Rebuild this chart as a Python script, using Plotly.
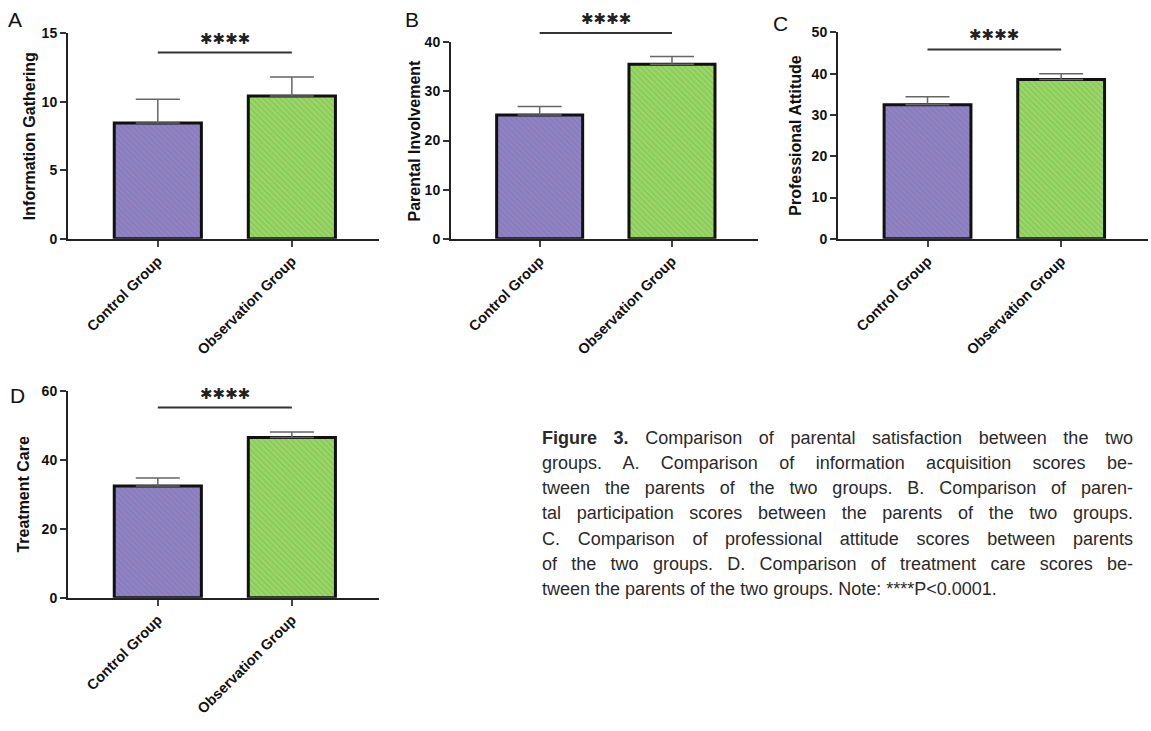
import json
import plotly.graph_objects as go

W, H = 1151, 731

categories = ["Control Group", "Observation Group"]
panel_letters = ["A", "B", "C", "D"]
panel_titles = ["Information Gathering", "Parental Involvement", "Professional Attitude", "Treatment Care"]

means_A = [8.45, 10.43]
sd_A = [1.74, 1.38]
means_B = [25.2, 35.5]
sd_B = [1.7, 1.6]
means_C = [32.5, 38.6]
sd_C = [1.9, 1.4]
means_D = [32.5, 46.6]
sd_D = [2.3, 1.6]

y_max = [15, 40, 50, 60]
y_dtick = [5, 10, 10, 20]
sig_level = [13.6, 41.9, 45.9, 55.3]
sig_text = "✱✱✱✱"

caption_lines = [
    "<b>Figure 3.</b> Comparison of parental satisfaction between the two",
    "groups. A. Comparison of information acquisition scores be-",
    "tween the parents of the two groups. B. Comparison of paren-",
    "tal participation scores between the parents of the two groups.",
    "C. Comparison of professional attitude scores between parents",
    "of the two groups. D. Comparison of treatment care scores be-",
    "tween the parents of the two groups. Note: ****P<0.0001.",
]

means = [means_A, means_B, means_C, means_D]
sds = [sd_A, sd_B, sd_C, sd_D]

boxes = [(68, 379, 26, 236), (451, 758, 35, 236), (838, 1148, 25, 236), (68, 379, 392, 603)]
title_x = [29, 415, 796, 24]
letter_pos = [(15, 12), (412, 12), (780, 16), (17, 396)]
x_range = [-0.67, 1.65]

bar_bg = ["#7f8ad0", "#86e460"]
bar_fg = ["#c25a80", "#c8876a"]

fig = go.Figure()
font_family = "Liberation Sans, Arial, sans-serif"
caption_font = "Liberation Sans, Arial, sans-serif"

for k in range(4):
    xa = "x" if k == 0 else f"x{k+1}"
    ya = "y" if k == 0 else f"y{k+1}"
    xl, xr, yt, yb = boxes[k]
    for i, cat in enumerate(categories):
        fig.add_trace(go.Bar(
            x=[cat], y=[means[k][i]],
            xaxis=xa, yaxis=ya, width=0.65,
            marker=dict(color=bar_bg[i], line=dict(color="#111", width=3),
                        pattern=dict(shape="\\", bgcolor=bar_bg[i], fgcolor=bar_fg[i],
                                     size=4, solidity=0.4)),
            error_y=dict(type="data", symmetric=False, array=[sds[k][i]], arrayminus=[0],
                         color="#666", thickness=1.5, width=22),
            showlegend=False,
        ))
    axis_common = dict(showgrid=False, zeroline=False, showline=True, linecolor="#222",
                       linewidth=2, ticks="outside", ticklen=6, tickwidth=2, tickcolor="#333")
    fig.layout[("xaxis" if k == 0 else f"xaxis{k+1}")] = dict(
        axis_common, domain=[xl / W, xr / W], anchor=ya, range=x_range,
        type="category", tickangle=-45, tickwidth=1.5, tickcolor="#444",
        tickfont=dict(family=font_family, size=14.5, color="#111", weight="bold"))
    fig.layout[("yaxis" if k == 0 else f"yaxis{k+1}")] = dict(
        axis_common, domain=[1 - yb / H, 1 - yt / H], anchor=xa, range=[0, y_max[k]],
        dtick=y_dtick[k], tick0=0,
        tickfont=dict(family=font_family, size=14, color="#111", weight="bold"))

    x0f = (0 - x_range[0]) / (x_range[1] - x_range[0])
    x1f = (1 - x_range[0]) / (x_range[1] - x_range[0])
    yf = sig_level[k] / y_max[k]
    fig.add_shape(type="line", xref=f"{xa} domain", yref=f"{ya} domain",
                  x0=x0f, x1=x1f, y0=yf, y1=yf, line=dict(color="#333", width=2))
    fig.add_annotation(xref=f"{xa} domain", yref=f"{ya} domain", x=(x0f + x1f) / 2, y=yf,
                       text=sig_text, showarrow=False, yanchor="middle", yshift=14,
                       font=dict(family="DejaVu Sans", size=15, color="#222"))
    fig.add_annotation(xref="paper", yref="paper", x=title_x[k] / W, y=1 - (yt + yb) / 2 / H,
                       text=panel_titles[k], textangle=-90, showarrow=False,
                       xanchor="center", yanchor="middle",
                       font=dict(family=font_family, size=16, color="#111", weight="bold"))
    lx, ly = letter_pos[k]
    fig.add_annotation(xref="paper", yref="paper", x=lx / W, y=1 - ly / H,
                       text=panel_letters[k], showarrow=False, xanchor="center", yanchor="middle",
                       font=dict(family=font_family, size=21, color="#111"))

justify_idx = []
for j, line in enumerate(caption_lines):
    if j < len(caption_lines) - 1:
        justify_idx.append(len(fig.layout.annotations))
    fig.add_annotation(xref="paper", yref="paper", x=540 / W, y=1 - (440 + j * 25.6) / H,
                       text=line, showarrow=False, xanchor="left", yanchor="middle", align="left",
                       font=dict(family=caption_font, size=18, color="#2a2a2a"))

fig.update_layout(width=W, height=H, margin=dict(l=0, r=0, t=0, b=0),
                  plot_bgcolor="white", paper_bgcolor="white")

post = """
document.body.style.margin='0';
document.documentElement.style.overflow='hidden';
var gd = document.getElementById('{plot_id}');
var idx = %s;
var target = 591;
gd.querySelectorAll('g.annotation').forEach(function(g){
  var i = parseInt(g.getAttribute('data-index'));
  if (idx.indexOf(i) < 0) return;
  var t = g.querySelector('text.annotation-text');
  if (!t) return;
  t.style.wordSpacing = '0px';
  var w = t.getComputedTextLength();
  var n = (t.textContent.match(/ /g) || []).length;
  if (n > 0 && w < target) t.style.wordSpacing = ((target - w) / n) + 'px';
});
""" % json.dumps(justify_idx)

fig.write_html("out.html", post_script=post, config={"displayModeBar": False})
